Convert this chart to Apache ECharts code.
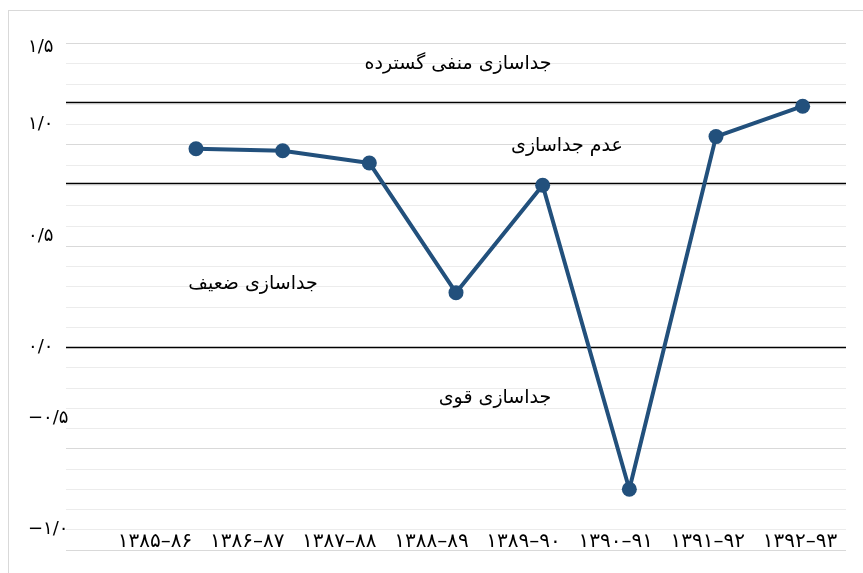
<!DOCTYPE html>
<html>
<head>
<meta charset="utf-8">
<script src="https://cdn.jsdelivr.net/npm/echarts@6/dist/echarts.min.js"></script>
<style>
    html,body{margin:0;padding:0;background:#fff;}
    #chart{width:863px;height:573px;position:relative;}
    .frame{position:absolute;left:8px;top:10px;width:900px;height:600px;border:1px solid #d9d9d9;pointer-events:none;}
</style>
</head>
<body>
<div id="chart"></div>
<div class="frame"></div>
<script>
// دوره‌ها
var categories = ['۱۳۸۵–۸۶','۱۳۸۶–۸۷','۱۳۸۷–۸۸','۱۳۸۸–۸۹','۱۳۸۹–۹۰','۱۳۹۰–۹۱','۱۳۹۱–۹۲','۱۳۹۲–۹۳'];
// شاخص جداسازی
var values = [0.98, 0.97, 0.91, 0.27, 0.80, -0.70, 1.04, 1.19];
// خطوط مرزی
var thresholds = [1.21, 0.81, 0];
// برچسب‌های محور عمودی (همان جایی که در تصویر نشسته‌اند)
var yTickValues = [1.48, 1.1, 0.55, 0, -0.35, -0.9];
var yTickLabels = ['۱/۵', '۱/۰', '۰/۵', '۰/۰', '−۰/۵', '−۱/۰'];
// نوشته‌های ناحیه‌ها
var zoneNames = ['جداسازی منفی گسترده', 'عدم جداسازی', 'جداسازی ضعیف', 'جداسازی قوی'];

var FONT = 'DejaVu Sans';
var myChart = echarts.init(document.getElementById('chart'));

// خط های شبکه: هر 0.1 یک خط، هر 0.5 پررنگ تر (تیک ها هر 0.01)
var minor = '#ececec', major = '#d9d9d9', none = 'rgba(0,0,0,0)';
var gridColors = [];
for (var g = 0; g < 50; g++) {
    if (g === 0) gridColors.push(major);
    else if (g % 10 === 0) gridColors.push(minor);
    else gridColors.push(none);
}

var zonePos = [[458, 64], [567, 146], [253, 284], [495, 398]];
var texts = [];
for (var i = 0; i < zoneNames.length; i++) {
    texts.push({
        type: 'text',
        x: zonePos[i][0],
        y: zonePos[i][1],
        z: 10,
        style: {
            text: zoneNames[i],
            fill: '#000',
            font: '19px "' + FONT + '"',
            textAlign: 'center',
            textVerticalAlign: 'middle'
        }
    });
}

var option = {
    animation: false,
    grid: [
        { left: 66, right: 17, top: 43.4, bottom: 23 },
        { left: 109, right: 17, top: 43.4, bottom: 43.4 }
    ],
    xAxis: [
        {
            type: 'category',
            gridIndex: 0,
            data: [''].concat(categories),
            boundaryGap: true,
            axisLine: { show: false },
            axisTick: { show: false },
            axisLabel: { show: false },
            splitLine: { show: false }
        },
        {
            type: 'category',
            gridIndex: 1,
            data: categories,
            axisLine: { show: false },
            axisTick: { show: false },
            axisLabel: { interval: 0, margin: 2, color: '#000', fontSize: 20, fontFamily: FONT },
            splitLine: { show: false }
        }
    ],
    yAxis: [
        {
            type: 'value',
            gridIndex: 0,
            min: -1.0,
            max: 1.5,
            interval: 0.01,
            axisLine: { show: false },
            axisTick: { show: false },
            axisLabel: {
                align: 'left',
                margin: 38,
                color: '#000',
                fontSize: 18,
                fontFamily: FONT,
                formatter: function (v) {
                    for (var k = 0; k < yTickValues.length; k++) {
                        if (Math.abs(yTickValues[k] - v) < 1e-6) return yTickLabels[k];
                    }
                    return '';
                }
            },
            splitLine: { show: true, lineStyle: { color: gridColors, width: 1 } }
        },
        {
            type: 'value',
            gridIndex: 1,
            show: false,
            splitLine: { show: false }
        }
    ],
    series: [
        {
            type: 'line',
            xAxisIndex: 0,
            yAxisIndex: 0,
            data: [null].concat(values),
            symbol: 'circle',
            symbolSize: 15,
            lineStyle: { color: '#22507c', width: 4 },
            itemStyle: { color: '#22507c' },
            z: 5,
            markLine: {
                silent: true,
                symbol: 'none',
                label: { show: false },
                lineStyle: { color: '#000', width: 1.3, type: 'solid' },
                data: thresholds.map(function (t) { return { yAxis: t }; })
            }
        }
    ],
    graphic: texts
};
myChart.setOption(option);
</script>
</body>
</html>
